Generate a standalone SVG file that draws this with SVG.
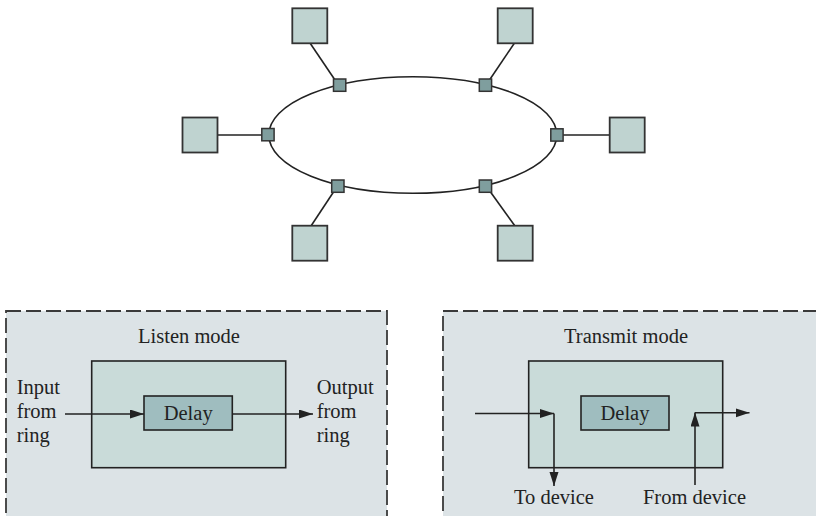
<svg xmlns="http://www.w3.org/2000/svg" width="816" height="516" viewBox="0 0 816 516">
  <defs>
    <marker id="arr" markerUnits="userSpaceOnUse" markerWidth="15" markerHeight="10" refX="14" refY="4.5" orient="auto">
      <path d="M0,0 L14,4.5 L0,9 z" fill="#222"/>
    </marker>
    <style>
      .dev { fill: #bfd3d0; stroke: #333; stroke-width: 1.8; }
      .tap { fill: #7f9e9e; stroke: #333; stroke-width: 1.5; }
      .ln { stroke: #222; stroke-width: 1.6; fill: none; }
      .panel { fill: #dce3e6; stroke: #3a3a3a; stroke-width: 1.8; stroke-dasharray: 15 5; }
      .inner { fill: #c9dbd9; stroke: #222; stroke-width: 1.6; }
      .delay { fill: #9fbdbf; stroke: #222; stroke-width: 1.6; }
      .t { font-family: "Liberation Serif", "Times New Roman", serif; font-size: 20.5px; fill: #222; }
      .arrow { stroke: #222; stroke-width: 1.6; fill: none; marker-end: url(#arr); }
    </style>
  </defs>

  <g id="connectors">
    <ellipse cx="412.8" cy="135" rx="144" ry="58.3" class="ln"/>
    <line x1="310" y1="43" x2="335" y2="80" class="ln"/>
    <line x1="514.5" y1="43" x2="489.5" y2="80" class="ln"/>
    <line x1="217.7" y1="135" x2="262" y2="135" class="ln"/>
    <line x1="563" y1="135" x2="610" y2="135" class="ln"/>
    <line x1="333.5" y1="192" x2="311" y2="226" class="ln"/>
    <line x1="490.5" y1="192" x2="515" y2="226" class="ln"/>
  </g>

  <g id="device-tl"><rect x="292.3" y="8.3" width="35" height="35" class="dev"/></g>
  <g id="device-tr"><rect x="497.7" y="8.3" width="35" height="35" class="dev"/></g>
  <g id="device-l"><rect x="182.5" y="117.5" width="35" height="35" class="dev"/></g>
  <g id="device-r"><rect x="609.7" y="117.5" width="35" height="35" class="dev"/></g>
  <g id="device-bl"><rect x="292.3" y="225.7" width="35" height="35" class="dev"/></g>
  <g id="device-br"><rect x="497.7" y="225.7" width="35" height="35" class="dev"/></g>

  <g id="tap-tl"><rect x="333.5" y="79" width="12.3" height="12.3" class="tap"/></g>
  <g id="tap-tr"><rect x="479.3" y="79" width="12.3" height="12.3" class="tap"/></g>
  <g id="tap-l"><rect x="261.8" y="128.5" width="12.3" height="12.3" class="tap"/></g>
  <g id="tap-r"><rect x="550.8" y="128.8" width="12.3" height="12.3" class="tap"/></g>
  <g id="tap-bl"><rect x="331.7" y="180" width="12.3" height="12.3" class="tap"/></g>
  <g id="tap-br"><rect x="479.3" y="180" width="12.3" height="12.3" class="tap"/></g>

  <g id="listen-mode">
    <rect x="6" y="311" width="381" height="220" class="panel"/>
    <text x="189" y="343" text-anchor="middle" class="t">Listen mode</text>
    <rect x="91.7" y="361" width="194" height="106.7" class="inner"/>
    <rect x="144" y="396" width="88.3" height="34" class="delay"/>
    <text x="188.2" y="420" text-anchor="middle" class="t">Delay</text>
    <text x="16.7" y="394" class="t">Input</text>
    <text x="16.7" y="418" class="t">from</text>
    <text x="16.7" y="442" class="t">ring</text>
    <text x="316.7" y="394" class="t">Output</text>
    <text x="316.7" y="418" class="t">from</text>
    <text x="316.7" y="442" class="t">ring</text>
    <line x1="65" y1="414" x2="144" y2="414" class="arrow"/>
    <line x1="232.3" y1="414" x2="313" y2="414" class="arrow"/>
  </g>

  <g id="transmit-mode">
    <rect x="443" y="311" width="400" height="220" class="panel"/>
    <text x="626" y="343" text-anchor="middle" class="t">Transmit mode</text>
    <rect x="528.7" y="361" width="194" height="106.7" class="inner"/>
    <rect x="581" y="396" width="88" height="34" class="delay"/>
    <text x="625" y="420" text-anchor="middle" class="t">Delay</text>
    <line x1="475" y1="413.5" x2="554" y2="413.5" class="arrow"/>
    <line x1="554" y1="413.5" x2="554" y2="486" class="arrow"/>
    <line x1="695" y1="485" x2="695" y2="412.5" class="arrow"/>
    <line x1="695" y1="412.8" x2="749.5" y2="412.8" class="arrow"/>
    <text x="554" y="504" text-anchor="middle" class="t">To device</text>
    <text x="694.5" y="504" text-anchor="middle" class="t">From device</text>
  </g>
</svg>
